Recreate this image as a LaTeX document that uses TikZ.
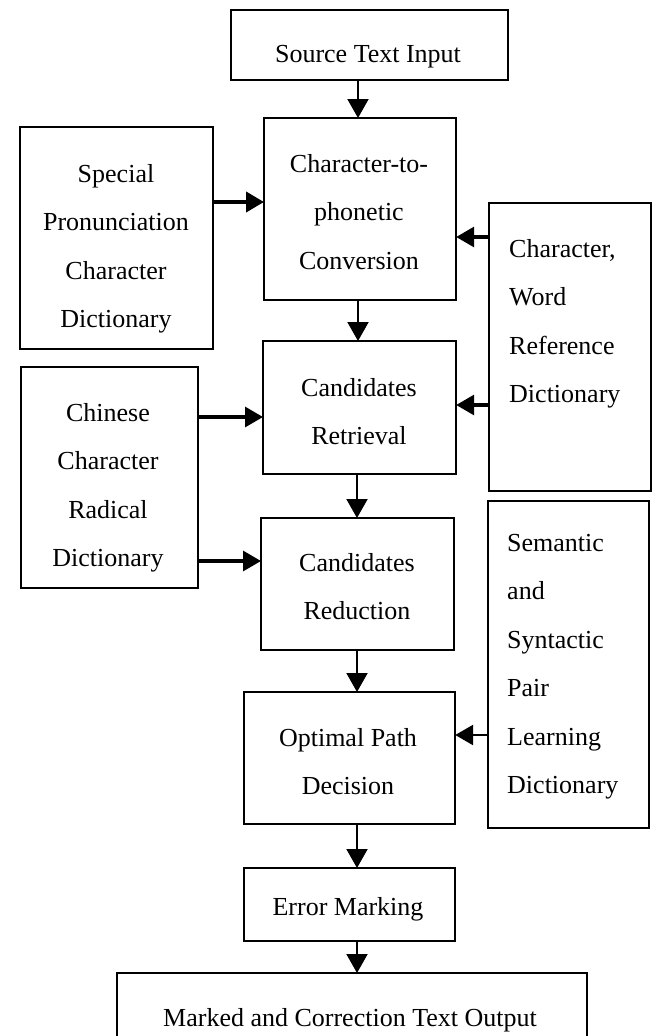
\documentclass[tikz,border=0pt]{standalone}
\usepackage{fontspec}
\setmainfont{Liberation Serif}
\usetikzlibrary{arrows.meta}
\begin{document}
\begin{tikzpicture}[x=1pt,y=-1pt,
  box/.style={draw=black, line width=2.2pt, inner sep=0pt, anchor=north west},
  lbl/.style={inner sep=0pt, font=\fontsize{26}{48.5}\selectfont, align=center},
  lblL/.style={inner sep=0pt, font=\fontsize{26}{48.5}\selectfont, align=left, anchor=north west},
  arr/.style={line width=2pt, -{Triangle[length=19pt,width=21pt]}, shorten >=-1pt},
  arrH/.style={line width=3.2pt, -{Triangle[length=18pt,width=20pt]}, shorten >=-1pt}
]
\useasboundingbox (0,0) rectangle (657,1036);
\clip (0,0) rectangle (657,1036);
% boxes
\node[box, minimum width=277pt, minimum height=70pt] (src) at (230,9) {};
\node[box, minimum width=192pt, minimum height=182pt] (cp) at (263,117) {};
\node[box, minimum width=193pt, minimum height=222pt] (spec) at (19,126) {};
\node[box, minimum width=162pt, minimum height=288pt] (cw) at (488,202) {};
\node[box, minimum width=193pt, minimum height=133pt] (ret) at (262,340) {};
\node[box, minimum width=177pt, minimum height=221pt] (chin) at (20,366) {};
\node[box, minimum width=193pt, minimum height=132pt] (red) at (260,517) {};
\node[box, minimum width=161pt, minimum height=327pt] (sem) at (487,500) {};
\node[box, minimum width=211pt, minimum height=132pt] (opt) at (243,691) {};
\node[box, minimum width=211pt, minimum height=73pt] (err) at (243,867) {};
\node[box, minimum width=470pt, minimum height=100pt] (out) at (116,972) {};
% labels
\node[lbl] (srcT) at (368,57) {Source Text Input};
\node[lbl, anchor=north] (cpT) at (359,154) {Character-to-\\phonetic\\Conversion};
\node[lbl, anchor=north] (specT) at (116,164) {Special\\Pronunciation\\Character\\Dictionary};
\node[lbl, anchor=north] (retT) at (359,378) {Candidates\\Retrieval};
\node[lbl, anchor=north] (chinT) at (108,403) {Chinese\\Character\\Radical\\Dictionary};
\node[lbl, anchor=north] (redT) at (357,553) {Candidates\\Reduction};
\node[lbl, anchor=north] (optT) at (348,728) {Optimal Path\\Decision};
\node[lbl] (errT) at (348,909) {Error Marking};
\node[lbl] (outT) at (350,1020) {Marked and Correction Text Output};
\node[lblL] (cwT) at (509,239) {Character,\\Word\\Reference\\Dictionary};
\node[lblL] (semT) at (507,534) {Semantic\\and\\Syntactic\\Pair\\Learning\\Dictionary};
% vertical arrows
\draw[arr] (src.south -| 358,0) -- (cp.north -| 358,0);
\draw[arr] (cp.south -| 358,0) -- (ret.north -| 358,0);
\draw[arr] (ret.south -| 357,0) -- (red.north -| 357,0);
\draw[arr] (red.south -| 357,0) -- (opt.north -| 357,0);
\draw[arr] (opt.south -| 357,0) -- (err.north -| 357,0);
\draw[arr] (err.south -| 357,0) -- (out.north -| 357,0);
% horizontal arrows
\draw[arrH, line width=4pt] (spec.east |- 0,202) -- (cp.west |- 0,202);
\draw[arrH] (cw.west |- 0,237) -- (cp.east |- 0,237);
\draw[arrH] (chin.east |- 0,417) -- (ret.west |- 0,417);
\draw[arrH] (cw.west |- 0,405) -- (ret.east |- 0,405);
\draw[arrH] (chin.east |- 0,561) -- (red.west |- 0,561);
\draw[arrH, line width=2.6pt] (sem.west |- 0,735) -- (opt.east |- 0,735);
\end{tikzpicture}
\end{document}
